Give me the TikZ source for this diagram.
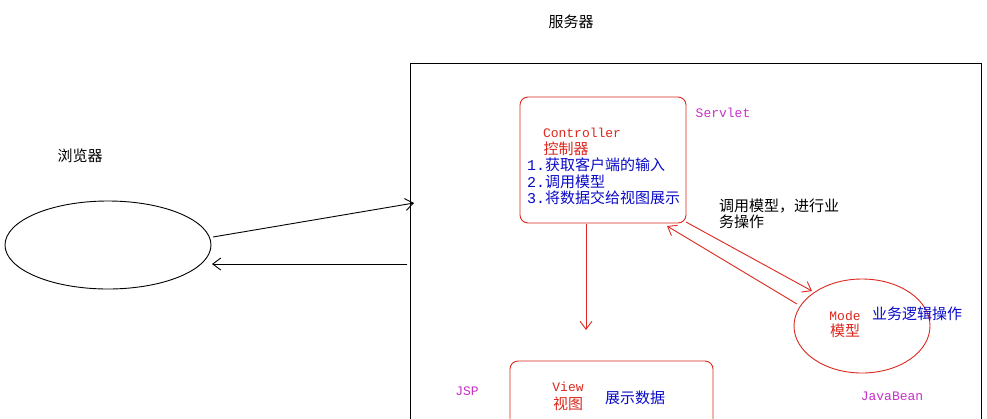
\documentclass[tikz,border=0pt]{standalone}
\usepackage{fontspec}
\setmainfont{Noto Sans CJK SC}
\newfontfamily\monof{Liberation Mono}
\usetikzlibrary{arrows.meta,shapes.geometric}
\definecolor{cred}{RGB}{220,40,30}
\definecolor{cblue}{RGB}{10,10,200}
\definecolor{cmag}{RGB}{200,50,200}
\tikzset{
  blk/.style={draw=black,line width=0.9pt},
  rline/.style={draw=cred,line width=0.9pt},
  arr/.style={-{Straight Barb[length=8pt,width=12pt]}},
  cn/.style={inner sep=0pt,font=\fontsize{15}{16}\selectfont},
  mn/.style={inner sep=0pt,font=\monof\fontsize{13}{15}\selectfont},
}
\begin{document}
\begin{tikzpicture}[x=1pt,y=-1pt]
\useasboundingbox (0,0) rectangle (987,418);
\fill[white] (0,0) rectangle (987,418);
% titles
\node[cn] (srvt) at (571,22) {服务器};
\node[cn] (brt) at (80,156) {浏览器};
% server frame
\draw[blk] (410,420) -- (410,63) -- (981,63) -- (981,420);
\coordinate (sin) at (414,203);
\coordinate (sout) at (407,264);
% browser
\node[blk,ellipse,minimum width=206pt,minimum height=88pt] (br) at (108,245) {};
\coordinate (bin) at (213,237);
\coordinate (bret) at (212,264);
\draw[blk,arr] (bin) -- (sin);
\draw[blk,arr] (sout) -- (bret);
% controller
\node[rline,rounded corners=8pt,minimum width=166pt,minimum height=126pt] (ctrl) at (603,160) {};
\node[mn,text=cmag] (servlet) at (723,113) {Servlet};
\node[mn,text=cred] (ctrlt) at (582,133) {Controller};
\node[cn,text=cred] (ctrlc) at (566,149) {控制器};
\node[cn,text=cblue,anchor=west] (l1) at (527,165) {{\monof 1.}获取客户端的输入};
\node[cn,text=cblue,anchor=west] (l2) at (527,182) {{\monof 2.}调用模型};
\node[cn,text=cblue,anchor=west] (l3) at (527,198) {{\monof 3.}将数据交给视图展示};
% view
\node[rline,rounded corners=8pt,minimum width=203pt,minimum height=120pt] (view) at (611.5,421) {};
\coordinate (vend) at (586,330);
\draw[rline,arr] (586,224) -- (vend);
\node[mn,text=cred] (viewt) at (568,387) {View};
\node[cn,text=cred] (viewc) at (568,404) {视图};
\node[cn,text=cblue] (show) at (635,398) {展示数据};
\node[mn,text=cmag] (jsp) at (467,391) {JSP};
% model
\node[rline,ellipse,minimum width=136pt,minimum height=94pt] (model) at (862,326) {};
\node[mn,text=cred] (modet) at (845,316) {Mode};
\node[cn,text=cred] (modec) at (845,331) {模型};
\node[cn,text=cblue] (biz) at (917,314) {业务逻辑操作};
\node[mn,text=cmag] (jb) at (892,396) {JavaBean};
\coordinate (c1) at (686,222);
\coordinate (m1) at (812,291);
\coordinate (m2) at (797,304);
\coordinate (c2) at (667,226);
\draw[rline,arr] (c1) -- (m1);
\draw[rline,arr] (m2) -- (c2);
\node[cn,anchor=west,align=left] (call) at (719,214) {调用模型，进行业\\务操作};
\end{tikzpicture}
\end{document}
